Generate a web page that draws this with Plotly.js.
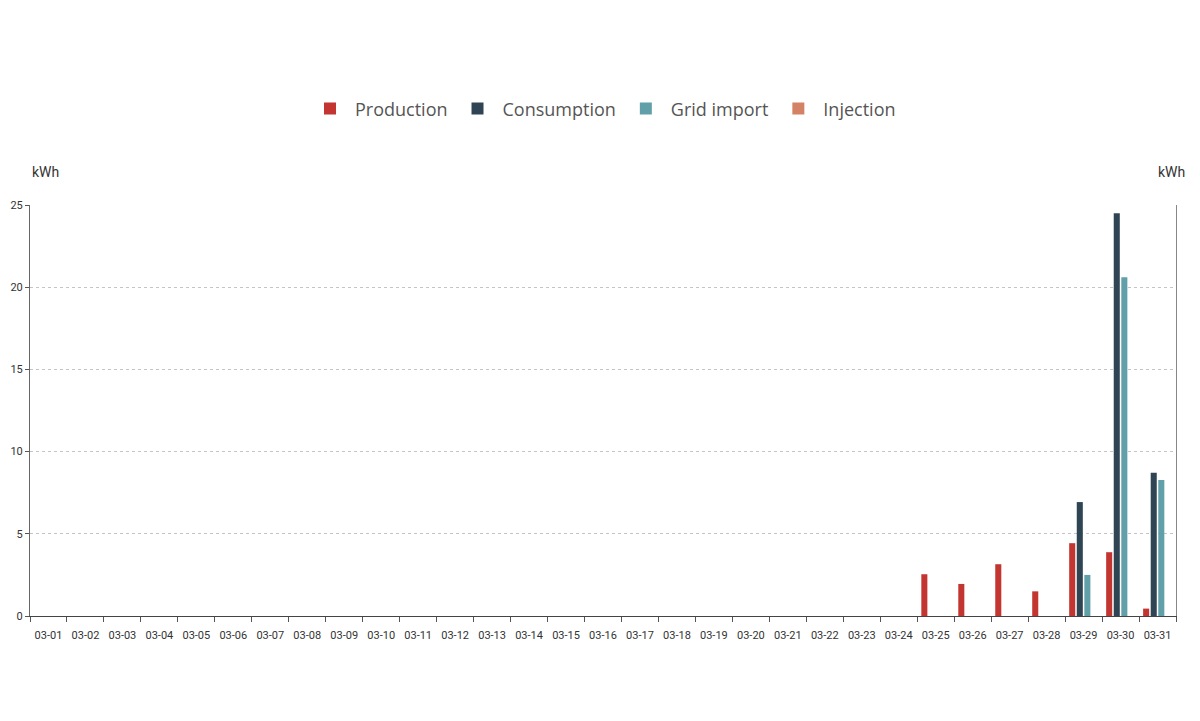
<!DOCTYPE html>
<html>
<head>
<meta charset="utf-8">
<script src="https://cdn.plot.ly/plotly-3.0.1.min.js"></script>
<style>html,body{margin:0;padding:0;background:#fff;}#chart{width:1200px;height:721px;}</style>
</head>
<body>
<div id="chart"></div>
<script>
const days = ["03-01","03-02","03-03","03-04","03-05","03-06","03-07","03-08","03-09","03-10","03-11","03-12","03-13","03-14","03-15","03-16","03-17","03-18","03-19","03-20","03-21","03-22","03-23","03-24","03-25","03-26","03-27","03-28","03-29","03-30","03-31"];
const production  = [0,0,0,0,0,0,0,0,0,0,0,0,0,0,0,0,0,0,0,0,0,0,0,0,2.54,1.95,3.15,1.5,4.43,3.88,0.45];
const consumption = [0,0,0,0,0,0,0,0,0,0,0,0,0,0,0,0,0,0,0,0,0,0,0,0,0,0,0,0,6.93,24.5,8.72];
const gridImport  = [0,0,0,0,0,0,0,0,0,0,0,0,0,0,0,0,0,0,0,0,0,0,0,0,0,0,0,0,2.5,20.6,8.27];
const injection   = [0,0,0,0,0,0,0,0,0,0,0,0,0,0,0,0,0,0,0,0,0,0,0,0,0,0,0,0,0,0,0];
const seriesNames = ["Production","Consumption","Grid import","Injection"];
const colors = ["#c23531","#2f4554","#61a0a8","#d48265"];
const yTicks = [0,5,10,15,20,25];

const values = [production, consumption, gridImport, injection];
const traces = values.map((v,i)=>({
  type:'bar', x:days, y:v, name:seriesNames[i],
  marker:{color:colors[i]}, hoverinfo:'x+y+name'
}));
traces.push({type:'bar', x:days, y:days.map(()=>null), yaxis:'y2', showlegend:false, hoverinfo:'skip'});

const layout = {
  width:1200, height:721,
  margin:{l:30, r:24, t:205, b:105},
  paper_bgcolor:'#fff', plot_bgcolor:'#fff',
  font:{family:'Roboto, "Open Sans", sans-serif', color:'#333'},
  barmode:'group', bargap:0.18, bargroupgap:0.2,
  showlegend:true,
  legend:{orientation:'h', x:0.5, xanchor:'center', y:1.234, yanchor:'middle',
    font:{size:18, color:'#555', family:'"Open Sans", sans-serif'}, itemwidth:40, traceorder:'normal'},
  xaxis:{type:'category', tickson:'boundaries', ticks:'outside', ticklen:5, tickcolor:'#555',
    ticklabelstandoff:9,
    showline:true, linecolor:'#444', linewidth:1, showgrid:false, zeroline:false,
    tickfont:{size:11, color:'#333'}, fixedrange:true},
  yaxis:{range:[0,25], tickvals:yTicks, ticks:'outside', ticklen:4, tickcolor:'#555',
    showline:true, linecolor:'#666', linewidth:1, showgrid:true, gridcolor:'#c4c4c4', griddash:'3px,3px', gridwidth:1,
    zeroline:false, tickfont:{size:11, color:'#333'}, fixedrange:true},
  yaxis2:{overlaying:'y', side:'right', range:[0,25], showline:true, linecolor:'#888', linewidth:1,
    showticklabels:false, ticks:'', showgrid:false, zeroline:false, fixedrange:true},
  annotations:[
    {xref:'paper', yref:'paper', x:0, y:1.08, xanchor:'left', yanchor:'middle', text:'kWh', showarrow:false, font:{size:14, color:'#333'}},
    {xref:'paper', yref:'paper', x:1.0096, y:1.08, xanchor:'right', yanchor:'middle', text:'kWh', showarrow:false, font:{size:14, color:'#333'}}
  ]
};
Plotly.newPlot('chart', traces, layout, {displayModeBar:false});
</script>
</body>
</html>
